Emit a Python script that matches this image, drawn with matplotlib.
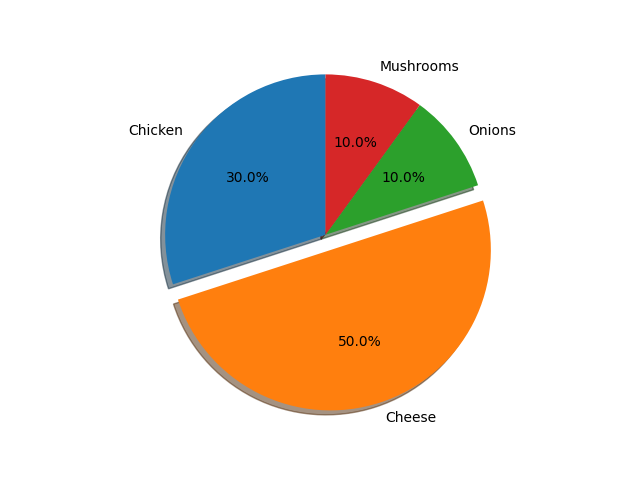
import matplotlib
matplotlib.use("Agg")
import matplotlib.pyplot as plt

labels = ["Chicken", "Cheese", "Onions", "Mushrooms"]
sizes = [30, 50, 10, 10]
explode = [0, 0.1, 0, 0]

fig, ax = plt.subplots(figsize=(6.4, 4.8), dpi=100)
ax.pie(sizes, explode=explode, labels=labels, autopct='%1.1f%%',
       shadow=True, startangle=90)
ax.axis('equal')
fig.savefig("out.png")
